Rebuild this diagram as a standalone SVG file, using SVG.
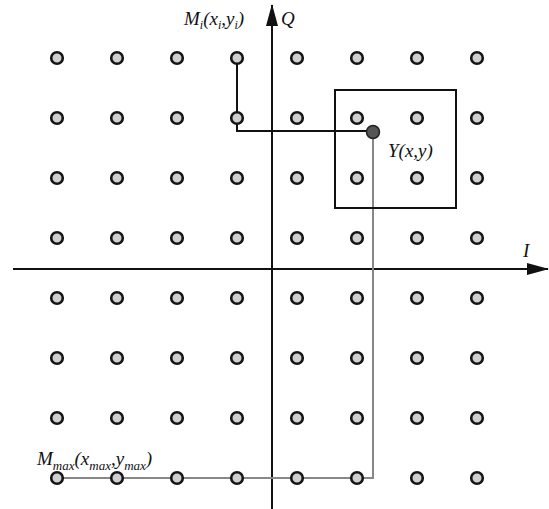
<svg xmlns="http://www.w3.org/2000/svg" xmlns:xlink="http://www.w3.org/1999/xlink" width="549" height="509" viewBox="0 0 549 509">
<style>
.pt{fill:#d0d0d0;stroke:#151515;stroke-width:2.6}
.ax{stroke:#111;stroke-width:2;fill:none}
.lab{font-family:"Liberation Serif",serif;font-style:italic;font-size:19px;fill:#111}
.sub{font-size:12px}
.subm{font-size:13px}
.blk{stroke:#111;stroke-width:2;fill:none}
.gry{stroke:#888;stroke-width:2;fill:none}
</style>
<defs>
<marker id="ah" markerWidth="22" markerHeight="12" refX="21" refY="6" orient="auto" markerUnits="userSpaceOnUse"><path d="M0,0 L22,6 L0,12 Z" fill="#111"/></marker>
</defs>
<rect width="549" height="509" fill="#fff"/>
<g id="axes">
<line class="ax" x1="13" y1="269" x2="548" y2="269" marker-end="url(#ah)"/>
<line class="ax" x1="272" y1="509" x2="272" y2="5" marker-end="url(#ah)"/>
<text class="lab" x="281" y="25">Q</text>
<text class="lab" x="523" y="257">I</text>
</g>
<g id="connectors">
<path class="gry" d="M373,132 V478 H57"/>
<path class="blk" d="M237,58 V131 H373"/>
</g>
<g id="box"><rect x="335" y="90" width="121" height="118" fill="none" stroke="#111" stroke-width="2"/></g>
<g id="grid">
<g id="p11"><circle class="pt" cx="57" cy="58" r="5.8"/></g><g id="p12"><circle class="pt" cx="117" cy="58" r="5.8"/></g><g id="p13"><circle class="pt" cx="177" cy="58" r="5.8"/></g><g id="p14"><circle class="pt" cx="237" cy="58" r="5.8"/></g><g id="p15"><circle class="pt" cx="297" cy="58" r="5.8"/></g><g id="p16"><circle class="pt" cx="357" cy="58" r="5.8"/></g><g id="p17"><circle class="pt" cx="417" cy="58" r="5.8"/></g><g id="p18"><circle class="pt" cx="477" cy="58" r="5.8"/></g>
<g id="p21"><circle class="pt" cx="57" cy="118" r="5.8"/></g><g id="p22"><circle class="pt" cx="117" cy="118" r="5.8"/></g><g id="p23"><circle class="pt" cx="177" cy="118" r="5.8"/></g><g id="p24"><circle class="pt" cx="237" cy="118" r="5.8"/></g><g id="p25"><circle class="pt" cx="297" cy="118" r="5.8"/></g><g id="p26"><circle class="pt" cx="357" cy="118" r="5.8"/></g><g id="p27"><circle class="pt" cx="417" cy="118" r="5.8"/></g><g id="p28"><circle class="pt" cx="477" cy="118" r="5.8"/></g>
<g id="p31"><circle class="pt" cx="57" cy="178" r="5.8"/></g><g id="p32"><circle class="pt" cx="117" cy="178" r="5.8"/></g><g id="p33"><circle class="pt" cx="177" cy="178" r="5.8"/></g><g id="p34"><circle class="pt" cx="237" cy="178" r="5.8"/></g><g id="p35"><circle class="pt" cx="297" cy="178" r="5.8"/></g><g id="p36"><circle class="pt" cx="357" cy="178" r="5.8"/></g><g id="p37"><circle class="pt" cx="417" cy="178" r="5.8"/></g><g id="p38"><circle class="pt" cx="477" cy="178" r="5.8"/></g>
<g id="p41"><circle class="pt" cx="57" cy="238" r="5.8"/></g><g id="p42"><circle class="pt" cx="117" cy="238" r="5.8"/></g><g id="p43"><circle class="pt" cx="177" cy="238" r="5.8"/></g><g id="p44"><circle class="pt" cx="237" cy="238" r="5.8"/></g><g id="p45"><circle class="pt" cx="297" cy="238" r="5.8"/></g><g id="p46"><circle class="pt" cx="357" cy="238" r="5.8"/></g><g id="p47"><circle class="pt" cx="417" cy="238" r="5.8"/></g><g id="p48"><circle class="pt" cx="477" cy="238" r="5.8"/></g>
<g id="p51"><circle class="pt" cx="57" cy="298" r="5.8"/></g><g id="p52"><circle class="pt" cx="117" cy="298" r="5.8"/></g><g id="p53"><circle class="pt" cx="177" cy="298" r="5.8"/></g><g id="p54"><circle class="pt" cx="237" cy="298" r="5.8"/></g><g id="p55"><circle class="pt" cx="297" cy="298" r="5.8"/></g><g id="p56"><circle class="pt" cx="357" cy="298" r="5.8"/></g><g id="p57"><circle class="pt" cx="417" cy="298" r="5.8"/></g><g id="p58"><circle class="pt" cx="477" cy="298" r="5.8"/></g>
<g id="p61"><circle class="pt" cx="57" cy="358" r="5.8"/></g><g id="p62"><circle class="pt" cx="117" cy="358" r="5.8"/></g><g id="p63"><circle class="pt" cx="177" cy="358" r="5.8"/></g><g id="p64"><circle class="pt" cx="237" cy="358" r="5.8"/></g><g id="p65"><circle class="pt" cx="297" cy="358" r="5.8"/></g><g id="p66"><circle class="pt" cx="357" cy="358" r="5.8"/></g><g id="p67"><circle class="pt" cx="417" cy="358" r="5.8"/></g><g id="p68"><circle class="pt" cx="477" cy="358" r="5.8"/></g>
<g id="p71"><circle class="pt" cx="57" cy="418" r="5.8"/></g><g id="p72"><circle class="pt" cx="117" cy="418" r="5.8"/></g><g id="p73"><circle class="pt" cx="177" cy="418" r="5.8"/></g><g id="p74"><circle class="pt" cx="237" cy="418" r="5.8"/></g><g id="p75"><circle class="pt" cx="297" cy="418" r="5.8"/></g><g id="p76"><circle class="pt" cx="357" cy="418" r="5.8"/></g><g id="p77"><circle class="pt" cx="417" cy="418" r="5.8"/></g><g id="p78"><circle class="pt" cx="477" cy="418" r="5.8"/></g>
<g id="p81"><circle class="pt" cx="57" cy="478" r="5.8"/></g><g id="p82"><circle class="pt" cx="117" cy="478" r="5.8"/></g><g id="p83"><circle class="pt" cx="177" cy="478" r="5.8"/></g><g id="p84"><circle class="pt" cx="237" cy="478" r="5.8"/></g><g id="p85"><circle class="pt" cx="297" cy="478" r="5.8"/></g><g id="p86"><circle class="pt" cx="357" cy="478" r="5.8"/></g><g id="p87"><circle class="pt" cx="417" cy="478" r="5.8"/></g><g id="p88"><circle class="pt" cx="477" cy="478" r="5.8"/></g>
</g>
<g id="Y"><circle cx="373" cy="132" r="6.5" fill="#555" stroke="#222" stroke-width="1.5"/><text class="lab" x="388" y="157">Y(x,y)</text></g>
<g id="Mi"><text class="lab" x="184" y="25">M<tspan class="sub" dy="4">i</tspan><tspan dy="-4">(x</tspan><tspan class="sub" dy="4">i</tspan><tspan dy="-4">,y</tspan><tspan class="sub" dy="4">i</tspan><tspan dy="-4">)</tspan></text></g>
<g id="Mmax"><text class="lab" x="37" y="465">M<tspan class="subm" dy="5">max</tspan><tspan dy="-5">(x</tspan><tspan class="subm" dy="5">max</tspan><tspan dy="-5">,y</tspan><tspan class="subm" dy="5">max</tspan><tspan dy="-5">)</tspan></text></g>
</svg>
